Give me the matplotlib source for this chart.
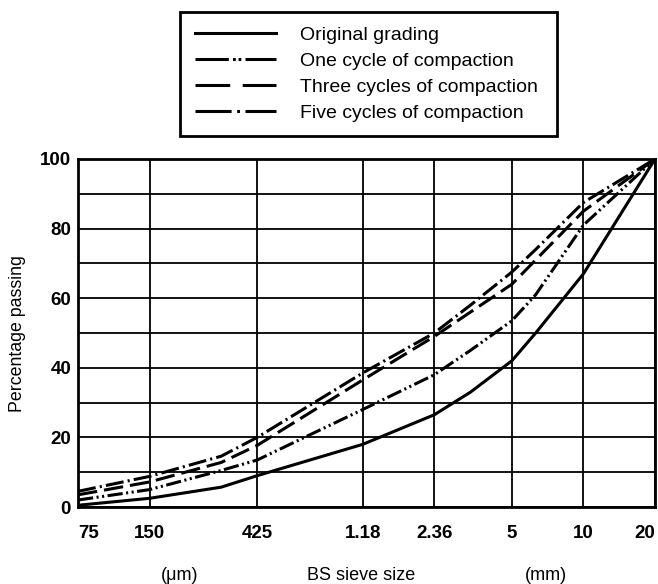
import matplotlib
matplotlib.use("Agg")
import matplotlib.pyplot as plt
from matplotlib.lines import Line2D

plt.rcParams["font.family"] = ["Liberation Sans", "DejaVu Sans"]
plt.rcParams["lines.scale_dashes"] = False

# sieve sizes in micrometres where the curves were read
sieve_um = [75, 150, 300, 425, 1180, 2360, 3350, 5000, 6300, 10000, 20000]

# labelled sieves on the x axis
tick_um = [75, 150, 425, 1180, 2360, 5000, 10000, 20000]
tick_labels = ["75", "150", "425", "1.18", "2.36", "5", "10", "20"]

# percentage passing
original = [0.5, 2.5, 5.7, 9, 18, 26.5, 33, 42, 50, 67, 100]
one_cycle = [2, 5, 10.5, 13.5, 28, 38, 45, 53.5, 61, 81, 100]
three_cycles = [3.5, 7.2, 12.8, 17.7, 36.5, 49, 56, 64, 71, 85, 100]
five_cycles = [4.5, 8.8, 14.6, 20, 38.5, 50, 58, 67.5, 74, 87.5, 100]

names = ["Original grading", "One cycle of compaction",
         "Three cycles of compaction", "Five cycles of compaction"]
# dash patterns in points: on the curves and (longer) in the key
styles = ["-", (0, (11, 2.5, 1.5, 2.5, 1.5, 2.5)), (0, (14, 5)), (0, (13, 3, 1.5, 3))]
key_styles = ["-", (0, (24, 3, 2, 2, 2, 3)), (0, (25, 9)), (0, (26, 4, 2, 4))]

fig = plt.figure(figsize=(6.58, 5.84), dpi=100)
ax = fig.add_axes([78 / 658, 1 - 507 / 584, 577 / 658, 348 / 584])

for vals, ls in zip([original, one_cycle, three_cycles, five_cycles], styles):
    ax.plot(sieve_um, vals, color="black", linewidth=2.2, linestyle=ls)

ax.set_xscale("log")
ax.set_xlim(75, 20000)
ax.set_ylim(0, 100)
ax.set_xticks(tick_um)
ax.set_xticklabels(tick_labels)
ax.xaxis.set_minor_locator(matplotlib.ticker.NullLocator())
ax.set_yticks(range(0, 101, 20))
ax.set_yticks(range(10, 100, 20), minor=True)

ax.grid(True, which="both", color="black", linewidth=1.3)
ax.tick_params(axis="both", which="both", length=0)
ax.tick_params(axis="x", pad=13, labelsize=13.5)
ax.tick_params(axis="y", pad=5, labelsize=13.5)
for lab in ax.get_xticklabels() + ax.get_yticklabels():
    lab.set_fontweight("bold")
# end labels sit inside the frame edges
xl = ax.get_xticklabels()
xl[0].set_ha("left")
xl[-1].set_ha("right")
for sp in ax.spines.values():
    sp.set_linewidth(2)

fig.text(18 / 658, 1 - 334 / 584, "Percentage passing", rotation=90,
         ha="center", va="center", fontsize=12.8)

fig.text(180 / 658, 1 - 575 / 584, "(μm)", ha="center", va="center", fontsize=13)
fig.text(361 / 658, 1 - 575 / 584, "BS sieve size", ha="center", va="center", fontsize=13)
fig.text(546 / 658, 1 - 575 / 584, "(mm)", ha="center", va="center", fontsize=13)

handles = [Line2D([], [], color="black", linewidth=2.2, linestyle=ls) for ls in key_styles]
leg = fig.legend(handles, names, loc="upper left",
                 bbox_to_anchor=(180 / 658, 1 - 136 / 584, 377 / 658, 124 / 584),
                 mode="expand", borderaxespad=0, fancybox=False, edgecolor="black",
                 fontsize=14, handlelength=4.2, labelspacing=0.42,
                 borderpad=0.75, handletextpad=1.2, framealpha=1)
leg.get_frame().set_linewidth(2)

fig.savefig("out.png", dpi=100)
